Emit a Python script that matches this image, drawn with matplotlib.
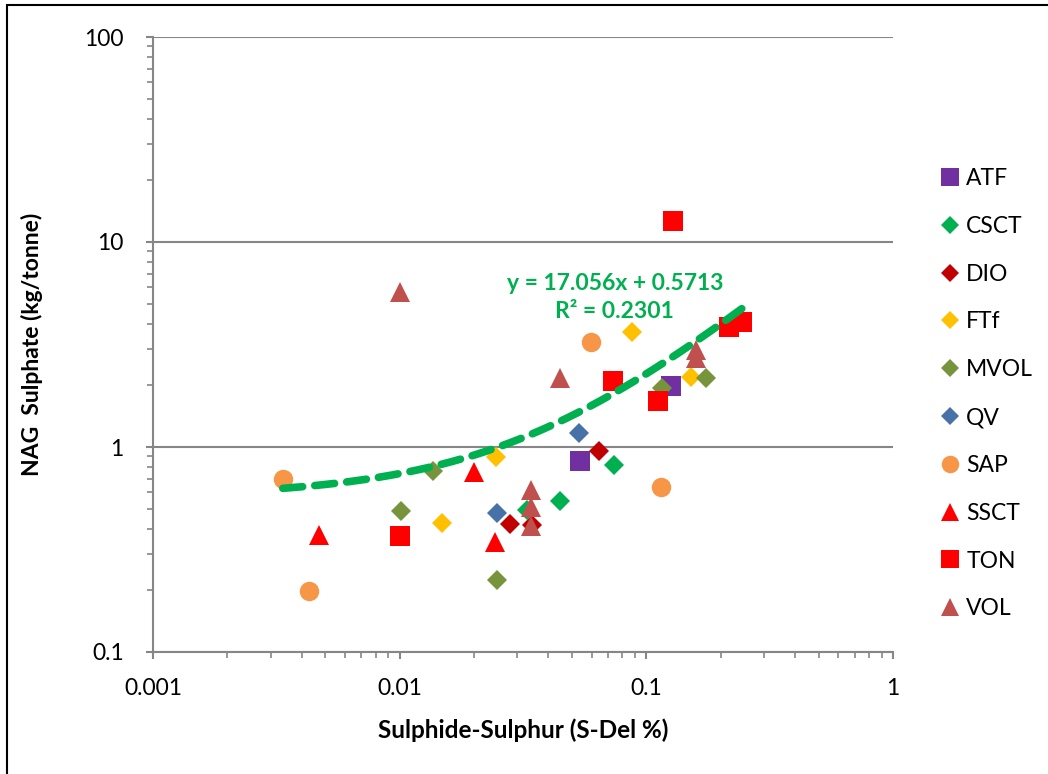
import matplotlib
matplotlib.use("Agg")
import matplotlib.pyplot as plt
import numpy as np
from matplotlib.lines import Line2D
from matplotlib.ticker import FixedLocator, NullFormatter

plt.rcParams['font.family'] = ['Lato', 'DejaVu Sans']

# ---- data ----
ATF_x = [0.0536, 0.126]
ATF_y = [0.855, 1.98]
CSCT_x = [0.0741, 0.0445, 0.0327]
CSCT_y = [0.817, 0.545, 0.493]
DIO_x = [0.0640, 0.0281, 0.0345]
DIO_y = [0.956, 0.421, 0.416]
FTf_x = [0.0245, 0.0148, 0.0877, 0.152]
FTf_y = [0.894, 0.426, 3.64, 2.19]
MVOL_x = [0.0136, 0.0101, 0.0247, 0.116, 0.175]
MVOL_y = [0.764, 0.487, 0.225, 1.94, 2.17]
QV_x = [0.0531, 0.0247]
QV_y = [1.17, 0.477]
SAP_x = [0.00336, 0.00429, 0.0599, 0.115]
SAP_y = [0.698, 0.198, 3.25, 0.638]
SSCT_x = [0.0047, 0.0201, 0.0243]
SSCT_y = [0.372, 0.755, 0.344]
TON_x = [0.0100, 0.0734, 0.112, 0.128, 0.217, 0.245]
TON_y = [0.368, 2.10, 1.68, 12.7, 3.85, 4.07]
VOL_x = [0.0100, 0.0445, 0.0342, 0.0342, 0.0342, 0.159, 0.159]
VOL_y = [5.70, 2.17, 0.617, 0.510, 0.412, 2.97, 2.72]

trend_slope = 17.056
trend_intercept = 0.5713
trend_label = "y = 17.056x + 0.5713\nR² = 0.2301"

x_ticks = [0.001, 0.01, 0.1, 1]
x_ticklabels = ["0.001", "0.01", "0.1", "1"]
y_ticks = [0.1, 1, 10, 100]
y_ticklabels = ["0.1", "1", "10", "100"]

series = [
    ("ATF", ATF_x, ATF_y, 's', '#7030A0', 14.0),
    ("CSCT", CSCT_x, CSCT_y, 'D', '#00B050', 10.0),
    ("DIO", DIO_x, DIO_y, 'D', '#C00000', 10.0),
    ("FTf", FTf_x, FTf_y, 'D', '#FFC000', 10.0),
    ("MVOL", MVOL_x, MVOL_y, 'D', '#77933C', 10.0),
    ("QV", QV_x, QV_y, 'D', '#4672A8', 10.0),
    ("SAP", SAP_x, SAP_y, 'o', '#F79646', 14.0),
    ("SSCT", SSCT_x, SSCT_y, '^', '#FF0000', 14.0),
    ("TON", TON_x, TON_y, 's', '#FF0000', 14.0),
    ("VOL", VOL_x, VOL_y, '^', '#C0504D', 14.0),
]

W, H = 1048, 774
fig = plt.figure(figsize=(W / 100, H / 100), dpi=100)
ax = fig.add_axes([153 / W, 1 - 652 / H, (893 - 153) / W, (652 - 37) / H])

ax.set_xscale('log')
ax.set_yscale('log')
ax.set_xlim(0.001, 1)
ax.set_ylim(0.1, 100)

grey = '#868686'
for s in ['top', 'right']:
    ax.spines[s].set_visible(False)
for s in ['left', 'bottom']:
    ax.spines[s].set_color(grey)
    ax.spines[s].set_linewidth(1.5)

ax.yaxis.grid(True, which='major', color=grey, linewidth=1.5)
ax.set_axisbelow(True)

ax.xaxis.set_major_locator(FixedLocator(x_ticks))
ax.set_xticklabels(x_ticklabels)
ax.yaxis.set_major_locator(FixedLocator(y_ticks))
ax.set_yticklabels(y_ticklabels)
ax.xaxis.set_minor_formatter(NullFormatter())
ax.yaxis.set_minor_formatter(NullFormatter())
ax.tick_params(which='major', direction='out', length=5, width=1.5, color=grey,
               labelsize=16.5, labelcolor='black')
ax.tick_params(which='minor', direction='out', length=4, width=1.2, color=grey)
ax.tick_params(axis='x', which='major', pad=14)
ax.tick_params(axis='y', which='major', pad=16)

handles = []
for name, xs, ys, m, c, ms in series:
    ax.plot(xs, ys, linestyle='none', marker=m, color=c, markersize=ms,
            markeredgewidth=0, clip_on=False, zorder=3)
    handles.append(Line2D([], [], linestyle='none', marker=m, color=c,
                          markersize=ms * 0.9, markeredgewidth=0, label=name))

# linear trendline over all points
all_x = np.concatenate([np.asarray(s[1], float) for s in series])
tx = np.geomspace(all_x.min(), all_x.max(), 200)
ty = trend_slope * tx + trend_intercept
ax.plot(tx, ty, color='#00B050', linewidth=5.5, dashes=(2.6, 1.6),
        dash_capstyle='round', zorder=5)

ax.text(0.0745, 5.35, trend_label, color='#00B050', fontsize=16.5, fontweight='bold',
        ha='center', va='center', linespacing=1.42, zorder=6)

ax.set_xlabel("Sulphide-Sulphur (S-Del %)", fontsize=17.5, fontweight='bold', labelpad=14)
ax.set_ylabel("NAG  Sulphate (kg/tonne)", fontsize=16.5, fontweight='bold', labelpad=30)

fig.legend(handles=handles, loc='upper left', bbox_to_anchor=(941 / W, 1 - 168 / H),
           frameon=False, fontsize=16.5, handlelength=0.8, handletextpad=0.3,
           labelspacing=1.17, borderaxespad=0, borderpad=0)

# chart-area border (only left/top visible in the reference crop)
fig.add_artist(plt.Rectangle((7 / W, -0.05), 1.2, 1 - 5 / H + 0.05,
                             transform=fig.transFigure, fill=False,
                             edgecolor='black', linewidth=1.5))

fig.savefig("out.png", dpi=100)
